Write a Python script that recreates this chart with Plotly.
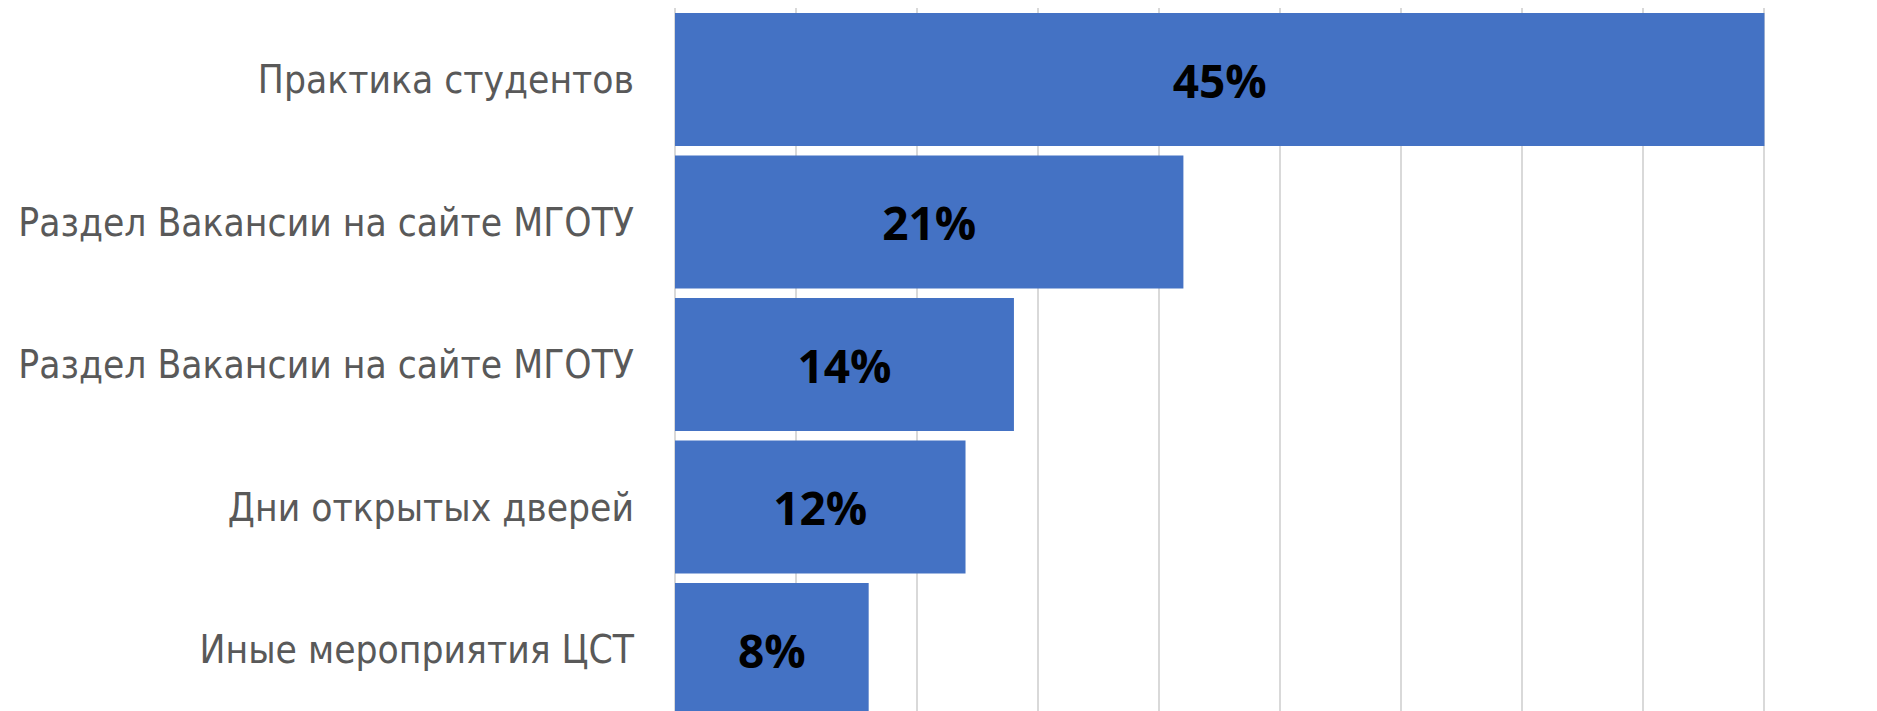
import plotly.graph_objects as go

categories = [
    "Практика студентов",
    "Раздел Вакансии на сайте МГОТУ",
    "Раздел Вакансии на сайте МГОТУ",
    "Дни открытых дверей",
    "Иные мероприятия ЦСТ",
]
values = [45, 21, 14, 12, 8]
value_labels = [f"{v}%" for v in values]
positions = list(range(len(categories)))

fig = go.Figure(
    go.Bar(
        x=values,
        y=positions,
        orientation="h",
        width=0.933,
        marker=dict(color="#4472C4", line=dict(width=0)),
        text=value_labels,
        textposition="inside",
        insidetextanchor="middle",
        textfont=dict(family="Open Sans", size=46, color="#000000", weight="bold"),
        hoverinfo="skip",
    )
)

fig.update_layout(
    width=1877,
    height=711,
    margin=dict(l=667, r=0, t=0, b=0),
    paper_bgcolor="white",
    plot_bgcolor="white",
    showlegend=False,
    uniformtext=dict(mode="show", minsize=10),
)

fig.update_xaxes(
    range=[0, 49.98],
    dtick=5,
    showgrid=True,
    gridcolor="#d9d9d9",
    gridwidth=1.5,
    zeroline=True,
    zerolinecolor="#d9d9d9",
    zerolinewidth=1.5,
    showticklabels=False,
    showline=False,
)

fig.update_yaxes(
    range=[4.487, -0.502],
    tickvals=positions,
    ticktext=categories,
    showgrid=False,
    zeroline=False,
    showline=False,
    ticks="",
    ticklabelstandoff=40,
    tickfont=dict(family="DejaVu Sans Condensed, Open Sans", size=38.6, color="#595959"),
)

fig.write_html("out.html")
